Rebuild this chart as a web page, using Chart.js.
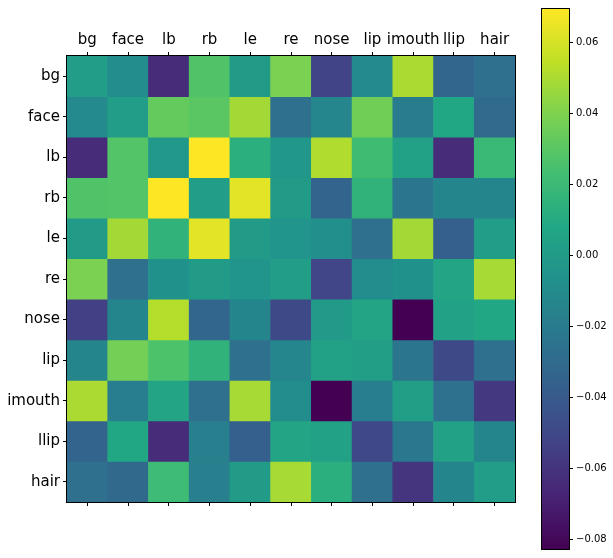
<!DOCTYPE html>
<html>
<head>
<meta charset="utf-8">
<script src="https://cdn.jsdelivr.net/npm/chart.js@4"></script>
<style>
  body { margin: 0; background: #fff; }
  #wrap { position: relative; width: 613px; height: 558px; }
  #heat { position: absolute; left: 0; top: 0; }
  #cbar { position: absolute; left: 520px; top: 0; }
</style>
</head>
<body>
<div id="wrap">
  <canvas id="heat" width="520" height="558"></canvas>
  <canvas id="cbar" width="93" height="558"></canvas>
</div>
<script>
var parts = ['bg', 'face', 'lb', 'rb', 'le', 're', 'nose', 'lip', 'imouth', 'llip', 'hair']

// one row of the matrix per part
var rowBg     = [0.001, -0.010, -0.064, 0.027, 0.000, 0.039, -0.052, -0.011, 0.050, -0.033, -0.027]
var rowFace   = [-0.011, 0.001, 0.033, 0.030, 0.048, -0.027, -0.013, 0.036, -0.020, 0.008, -0.030]
var rowLb     = [-0.064, 0.028, -0.002, 0.0693, 0.013, -0.003, 0.051, 0.022, 0.004, -0.064, 0.019]
var rowRb     = [0.027, 0.028, 0.0693, 0.001, 0.063, 0.000, -0.034, 0.015, -0.023, -0.014, -0.014]
var rowLe     = [0.000, 0.048, 0.015, 0.063, 0.000, -0.005, -0.008, -0.027, 0.048, -0.037, 0.001]
var rowRe     = [0.039, -0.027, -0.007, 0.000, -0.005, 0.001, -0.051, -0.010, -0.007, 0.006, 0.049]
var rowNose   = [-0.054, -0.014, 0.052, -0.033, -0.014, -0.049, -0.001, 0.006, -0.0828, 0.004, 0.008]
var rowLip    = [-0.014, 0.037, 0.026, 0.015, -0.027, -0.013, 0.004, 0.002, -0.023, -0.049, -0.027]
var rowImouth = [0.050, -0.019, 0.006, -0.027, 0.049, -0.010, -0.0828, -0.019, 0.002, -0.026, -0.058]
var rowLlip   = [-0.034, 0.008, -0.064, -0.018, -0.037, 0.006, 0.004, -0.050, -0.022, 0.004, -0.014]
var rowHair   = [-0.027, -0.031, 0.021, -0.018, 0.000, 0.049, 0.013, -0.027, -0.060, -0.014, 0.001]

var cbarTicks = [-0.08, -0.06, -0.04, -0.02, 0.00, 0.02, 0.04, 0.06]

var matrix = [rowBg, rowFace, rowLb, rowRb, rowLe, rowRe, rowNose, rowLip, rowImouth, rowLlip, rowHair]
var flat = [].concat.apply([], matrix)
var vmin = Math.min.apply(null, flat)
var vmax = Math.max.apply(null, flat)

var viridisStops = ['#440154', '#482475', '#414487', '#355f8d', '#2a788e', '#21918c',
  '#22a884', '#44bf70', '#7ad151', '#bddf26', '#fde725']

function hexRgb(h) {
  return [parseInt(h.slice(1, 3), 16), parseInt(h.slice(3, 5), 16), parseInt(h.slice(5, 7), 16)]
}

function viridis(t) {
  t = Math.max(0, Math.min(1, t))
  var p = t * 10
  var i = Math.min(9, Math.floor(p))
  var f = p - i
  var a = hexRgb(viridisStops[i]), b = hexRgb(viridisStops[i + 1])
  var c = a.map(function(x, k) { return Math.round(x + (b[k] - x) * f) })
  return 'rgb(' + c.join(',') + ')'
}

// black frame round the plot area, like matplotlib's spines
var frame = {
  id: 'frame',
  afterDatasetsDraw: function(chart) {
    var a = chart.chartArea, ctx = chart.ctx
    ctx.save()
    ctx.strokeStyle = '#000'
    ctx.lineWidth = 1
    ctx.strokeRect(Math.round(a.left) - 0.5, Math.round(a.top) - 0.5,
      Math.round(a.right - a.left) + 1, Math.round(a.bottom - a.top) + 1)
    ctx.restore()
  }
}

Chart.defaults.font.family = 'DejaVu Sans'
Chart.defaults.color = '#000'

var tickGrid = { drawOnChartArea: false, offset: false, tickLength: 4, color: '#000', tickWidth: 1 }

var datasets = matrix.map(function(row, r) {
  return {
    label: parts[r],
    data: row.map(function() { return [r, r + 1] }),
    backgroundColor: row.map(function(v) { return viridis((v - vmin) / (vmax - vmin)) }),
    borderWidth: 0,
    barPercentage: 1,
    categoryPercentage: 1
  }
})

new Chart(document.getElementById('heat'), {
  type: 'bar',
  data: { labels: parts, datasets: datasets },
  options: {
    responsive: false,
    animation: false,
    layout: { padding: { right: 5 } },
    plugins: { legend: { display: false }, tooltip: { enabled: false } },
    scales: {
      x: {
        position: 'top',
        stacked: true,
        offset: true,
        grid: tickGrid,
        border: { display: false },
        ticks: { font: { size: 15 }, maxRotation: 0, autoSkip: false, padding: 3 },
        afterFit: function(s) { s.height = 56 }
      },
      xb: {
        type: 'category',
        position: 'bottom',
        labels: parts,
        offset: true,
        grid: tickGrid,
        border: { display: false },
        ticks: { callback: function() { return '' }, autoSkip: false },
        afterFit: function(s) { s.height = 56 }
      },
      y: {
        type: 'linear',
        reverse: true,
        min: 0,
        max: parts.length,
        stacked: false,
        afterBuildTicks: function(s) {
          s.ticks = parts.map(function(p, i) { return { value: i + 0.5 } })
        },
        grid: tickGrid,
        border: { display: false },
        ticks: {
          font: { size: 15 },
          padding: 3,
          autoSkip: false,
          callback: function(v, i) { return parts[i] }
        },
        afterFit: function(s) { s.width = 67 }
      }
    }
  },
  plugins: [frame]
})

function fmtTick(v) {
  if (Math.abs(v) < 1e-9) return '0.00'
  return v.toFixed(2).replace('-', '\u2212')
}

new Chart(document.getElementById('cbar'), {
  type: 'bar',
  data: {
    labels: [''],
    datasets: [{
      data: [[vmin, vmax]],
      backgroundColor: function(c) {
        var a = c.chart.chartArea
        if (!a) return viridisStops[5]
        var g = c.chart.ctx.createLinearGradient(0, a.bottom, 0, a.top)
        viridisStops.forEach(function(col, i) { g.addColorStop(i / 10, col) })
        return g
      },
      borderWidth: 0,
      barPercentage: 1,
      categoryPercentage: 1
    }]
  },
  options: {
    responsive: false,
    animation: false,
    layout: { padding: { left: 22, top: 7, bottom: 8 } },
    plugins: { legend: { display: false }, tooltip: { enabled: false } },
    scales: {
      x: { display: false },
      y: {
        position: 'right',
        min: vmin,
        max: vmax,
        afterBuildTicks: function(s) {
          s.ticks = cbarTicks.map(function(v) { return { value: v } })
        },
        grid: { drawOnChartArea: false, tickLength: 4, color: '#000' },
        border: { display: false },
        ticks: { font: { size: 10 }, padding: 3, callback: fmtTick },
        afterFit: function(s) { s.width = 44 }
      }
    }
  },
  plugins: [frame]
})
</script>
</body>
</html>
